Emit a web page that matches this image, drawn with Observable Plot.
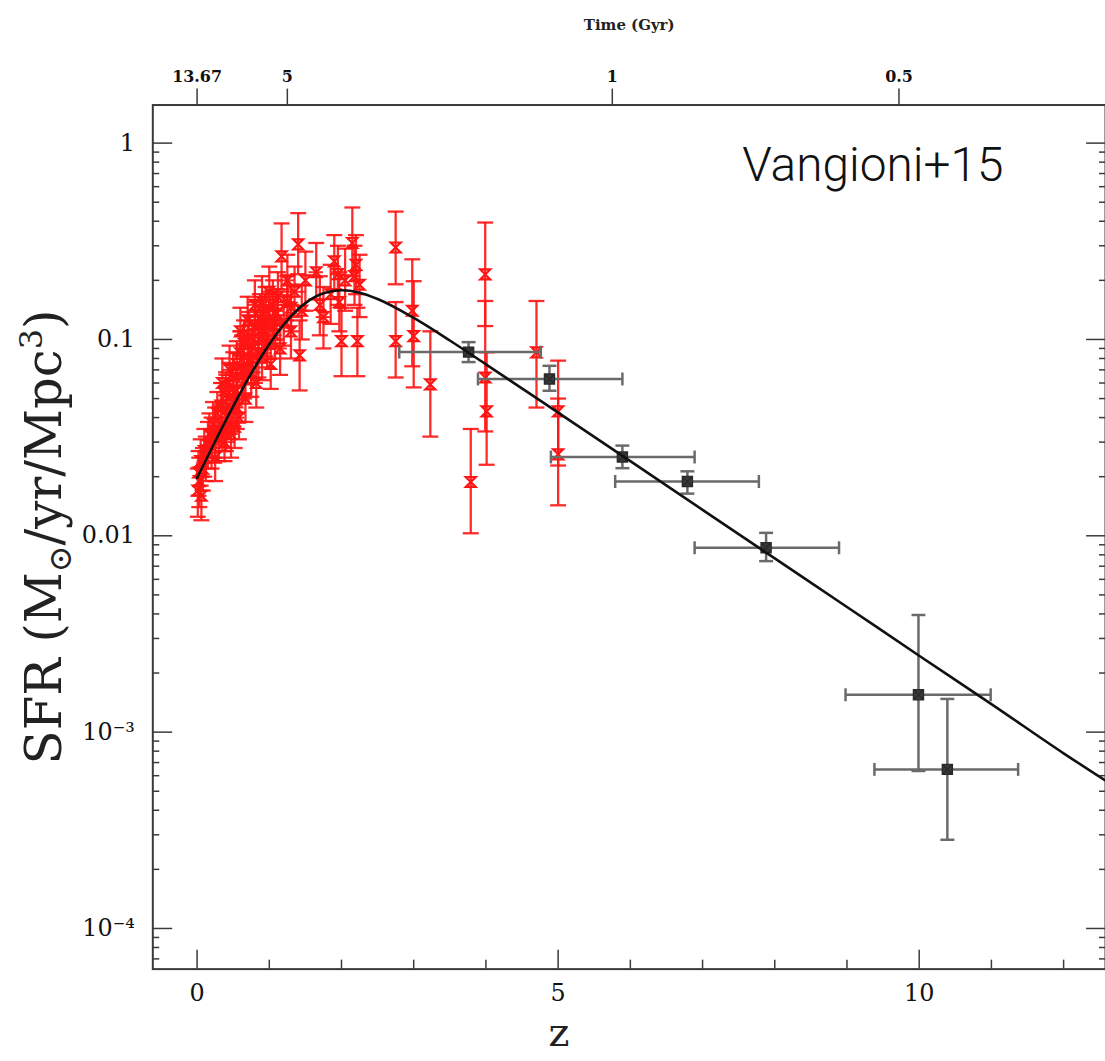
<!DOCTYPE html>
<html><head><meta charset="utf-8">
<script src="https://cdn.jsdelivr.net/npm/d3@7"></script>
<script src="https://cdn.jsdelivr.net/npm/@observablehq/plot@0.6"></script>
<style>
html,body{margin:0;padding:0;background:#fff;overflow:hidden;}
#chart svg{display:block;}
</style></head><body><div id="chart"></div>
<script>
// ---- Fit curve ----
const curveZ   = [0, 0.25, 0.5, 0.75, 1, 1.25, 1.5, 1.75, 2, 2.25, 2.5, 3, 3.5, 4, 5, 6, 7, 8, 9, 10, 11, 12, 12.6];
const curveSFR = [0.0197, 0.0302, 0.0456, 0.0671, 0.0945, 0.1251, 0.1531, 0.1718, 0.178, 0.173, 0.1607, 0.1287, 0.0988, 0.0747, 0.0424, 0.0240, 0.01356, 0.00767, 0.00434, 0.00245, 0.00139, 0.00078, 0.00056];

// ---- High-z (grey/black) points ----
const blackZ   = [3.76, 4.88, 5.89, 6.79, 7.88, 9.99, 10.39];
const blackSFR = [0.0862, 0.0629, 0.0252, 0.0189, 0.00869, 0.00155, 0.000646];
const blackLo  = [0.0767, 0.0548, 0.0221, 0.0164, 0.00743, 0.000634, 0.000283];
const blackHi  = [0.0969, 0.0734, 0.0288, 0.0213, 0.01035, 0.00395, 0.001476];
const blackZlo = [2.80, 3.89, 4.90, 5.79, 6.89, 8.98, 9.38];
const blackZhi = [4.76, 5.89, 6.89, 7.78, 8.89, 10.99, 11.37];

// ---- Red compilation points ----
const redZ   = [0.01,0.02,0.03,0.05,0.06,0.08,0.10,0.12,0.15,0.17,0.20,0.22,0.25,0.28,0.30,0.33,0.35,0.38,0.40,0.42,0.45,0.47,0.50,0.50,0.52,0.55,0.55,0.58,0.60,0.62,0.65,0.67,0.70,0.72,0.75,0.77,0.80,0.82,0.85,0.87,0.90,0.92,0.95,0.97,1.00,1.02,1.05,1.08,1.10,1.12,1.15,1.17,1.20,1.25,1.30,1.35,1.40,1.42,1.45,1.50,1.65,1.70,1.75,1.85,1.90,1.95,1.97,2.00,2.05,2.15,2.18,2.20,2.22,2.25,2.75,2.75,2.98,3.00,3.23,3.79,3.99,3.99,4.01,4.70,5.00,5.00,
                0.35,0.45,0.60,0.70,0.80,0.90,1.00,1.05,0.65,0.75,0.85,0.95,1.25,1.30,0.25,0.40,0.55];
const redSFR = [0.017,0.021,0.019,0.024,0.016,0.022,0.027,0.025,0.029,0.033,0.030,0.037,0.034,0.042,0.031,0.046,0.036,0.030,0.052,0.040,0.058,0.033,0.048,0.066,0.036,0.075,0.055,0.040,0.085,0.064,0.095,0.050,0.078,0.105,0.068,0.090,0.118,0.060,0.100,0.130,0.082,0.112,0.140,0.095,0.120,0.075,0.150,0.105,0.135,0.165,0.090,0.265,0.125,0.155,0.110,0.175,0.305,0.083,0.140,0.200,0.220,0.150,0.130,0.170,0.250,0.215,0.155,0.098,0.200,0.310,0.210,0.240,0.098,0.190,0.294,0.098,0.140,0.104,0.059,0.0188,0.2145,0.064,0.043,0.086,0.043,0.026,
                0.060,0.070,0.110,0.125,0.150,0.155,0.175,0.125,0.070,0.080,0.085,0.110,0.200,0.145,0.025,0.035,0.045];
const redLo  = [0.0125,0.016,0.014,0.018,0.012,0.017,0.020,0.019,0.022,0.025,0.022,0.028,0.025,0.032,0.024,0.035,0.027,0.024,0.040,0.031,0.044,0.025,0.036,0.050,0.028,0.057,0.042,0.031,0.064,0.049,0.072,0.038,0.059,0.080,0.051,0.068,0.090,0.045,0.076,0.098,0.062,0.085,0.106,0.072,0.090,0.056,0.113,0.080,0.100,0.125,0.066,0.180,0.093,0.115,0.080,0.130,0.215,0.055,0.100,0.140,0.160,0.105,0.090,0.120,0.180,0.150,0.110,0.065,0.140,0.210,0.150,0.170,0.065,0.130,0.191,0.064,0.073,0.057,0.032,0.0103,0.117,0.034,0.023,0.045,0.0228,0.0143,
                0.045,0.053,0.083,0.094,0.112,0.115,0.130,0.092,0.053,0.060,0.064,0.082,0.150,0.110,0.019,0.027,0.035];
const redHi  = [0.022,0.027,0.025,0.031,0.020,0.028,0.035,0.032,0.038,0.042,0.040,0.048,0.045,0.054,0.040,0.060,0.047,0.038,0.068,0.052,0.076,0.043,0.063,0.086,0.046,0.098,0.072,0.052,0.110,0.083,0.125,0.065,0.102,0.138,0.090,0.118,0.155,0.080,0.132,0.170,0.108,0.147,0.185,0.125,0.160,0.100,0.200,0.140,0.180,0.220,0.122,0.390,0.168,0.210,0.150,0.235,0.440,0.125,0.190,0.280,0.310,0.210,0.185,0.240,0.340,0.300,0.220,0.145,0.290,0.470,0.300,0.340,0.145,0.270,0.448,0.155,0.256,0.198,0.110,0.035,0.394,0.157,0.086,0.157,0.078,0.050,
                0.080,0.093,0.145,0.165,0.200,0.210,0.235,0.170,0.093,0.106,0.113,0.147,0.270,0.190,0.033,0.045,0.058];
const redZerr = [0.02,0.03,0,0.05,0.03,0,0.08,0,0.1,0,0.1,0,0.15,0,0.1,0.1,0,0.15,0.1,0,0.15,0.1,0,0.2,0.1,0.1,0,0.08,0.15,0,0.1,0.1,0,0.2,0.1,0,0.15,0.1,0,0.2,0.1,0,0.15,0.1,0.2,0,0.15,0.1,0,0.2,0.1,0,0.15,0.1,0,0.15,0,0,0.1,0,0.1,0,0.1,0,0,0.1,0,0,0,0,0,0,0,0,0,0,0,0,0,0,0,0,0,0,0,0,
                0.1,0.1,0.1,0.1,0.1,0.1,0.1,0.15,0.1,0.15,0,0,0.1,0,0.1,0.1,0.1];

// ---- Axis ticks ----
const yMajor = [1, 0.1, 0.01, 0.001, 0.0001];
const yMajorLabels = ["1", "0.1", "0.01", "10\u207B\u00B3", "10\u207B\u2074"];
const yMinor = [7e-5, 8e-5, 9e-5,
  2e-4, 3e-4, 4e-4, 5e-4, 6e-4, 7e-4, 8e-4, 9e-4,
  2e-3, 3e-3, 4e-3, 5e-3, 6e-3, 7e-3, 8e-3, 9e-3,
  0.02, 0.03, 0.04, 0.05, 0.06, 0.07, 0.08, 0.09,
  0.2, 0.3, 0.4, 0.5, 0.6, 0.7, 0.8, 0.9];
const xMajor = [0, 5, 10];
const xMajorLabels = ["0", "5", "10"];
const xMinor = [1, 2, 3, 4, 6, 7, 8, 9, 11, 12];
const timeTickZ = [0, 1.25, 5.75, 9.72];
const timeTickLabels = ["13.67", "5", "1", "0.5"];

// ---- build tables ----
const curve = curveZ.map((z, i) => ({z, v: curveSFR[i]}));
const black = blackZ.map((z, i) => ({z, v: blackSFR[i], lo: blackLo[i], hi: blackHi[i], zlo: blackZlo[i], zhi: blackZhi[i]}));
const red = redZ.map((z, i) => ({z, v: redSFR[i], lo: redLo[i], hi: redHi[i], zlo: z - redZerr[i], zhi: z + redZerr[i], e: redZerr[i]}));
const redX = red.filter(d => d.e > 0);

// ---- custom symbols ----
const hline = {draw(ctx, size){const r = Math.sqrt(size/Math.PI); ctx.moveTo(-r,0); ctx.lineTo(r,0);}};
const vline = {draw(ctx, size){const r = Math.sqrt(size/Math.PI); ctx.moveTo(0,-r); ctx.lineTo(0,r);}};
const hourglass = {draw(ctx, size){const r = Math.sqrt(size/Math.PI); ctx.moveTo(-r,-r); ctx.lineTo(r,-r); ctx.lineTo(-r,r); ctx.lineTo(r,r); ctx.closePath();}};
const boxX = {draw(ctx, size){const r = Math.sqrt(size/Math.PI); ctx.moveTo(-r,-r); ctx.lineTo(r,-r); ctx.lineTo(r,r); ctx.lineTo(-r,r); ctx.closePath(); ctx.moveTo(-r,-r); ctx.lineTo(r,r); ctx.moveTo(r,-r); ctx.lineTo(-r,r);}};

const RED = "#ff1414";
const GREY = "#6a6a6a";
const AX = "#3a3a3a";
const SERIF = "'DejaVu Serif', 'Liberation Serif', serif";
const YLABEL = "__YLABEL__";

const chart = Plot.plot({
  width: 1110, height: 1061,
  marginTop: 105, marginBottom: 88, marginLeft: 153, marginRight: 0,
  style: {fontFamily: SERIF, background: "white", color: "#111", overflow: "visible"},
  x: {domain: [-0.613, 12.58]},
  y: {type: "log", domain: [Math.pow(10, -4.207), Math.pow(10, 0.194)]},
  marks: [
    // axes
    Plot.axisY({anchor: "left", ticks: yMinor, tickSize: -7, tickFormat: () => "", stroke: AX, strokeWidth: 1.5, label: null}),
    Plot.axisY({anchor: "left", ticks: yMajor, tickSize: -20, tickPadding: 38, tickFormat: d => yMajorLabels[yMajor.indexOf(d)], fontSize: 24, stroke: AX, strokeWidth: 1.5, label: null}),
    Plot.axisY({anchor: "right", ticks: yMinor, tickSize: -7, tickFormat: () => "", stroke: AX, strokeWidth: 1.5, label: null}),
    Plot.axisY({anchor: "right", ticks: yMajor, tickSize: -20, tickFormat: () => "", stroke: AX, strokeWidth: 1.5, label: null}),
    Plot.axisX({anchor: "bottom", ticks: xMinor, tickSize: -9, tickFormat: () => "", stroke: AX, strokeWidth: 1.5, label: null}),
    Plot.axisX({anchor: "bottom", ticks: xMajor, tickSize: -19, tickPadding: 34, tickFormat: d => xMajorLabels[xMajor.indexOf(d)], fontSize: 24, stroke: AX, strokeWidth: 1.5, label: null}),
    Plot.axisX({anchor: "top", ticks: timeTickZ, tickSize: 17, tickPadding: 6, tickFormat: d => timeTickLabels[timeTickZ.indexOf(d)], fontSize: 16, fontWeight: "bold", stroke: AX, strokeWidth: 1.5, label: null}),
    Plot.frame({stroke: AX, strokeWidth: 2}),
    // red compilation
    Plot.ruleY(redX, {y: "v", x1: "zlo", x2: "zhi", stroke: RED, strokeWidth: 2, strokeOpacity: 0.9}),
    Plot.ruleX(red, {x: "z", y1: "lo", y2: "hi", stroke: RED, strokeWidth: 2.3, strokeOpacity: 0.9}),
    Plot.dot(red, {x: "z", y: "lo", symbol: hline, r: 8, stroke: RED, strokeWidth: 2.3, strokeOpacity: 0.9}),
    Plot.dot(red, {x: "z", y: "hi", symbol: hline, r: 8, stroke: RED, strokeWidth: 2.3, strokeOpacity: 0.9}),
    Plot.dot(red, {x: "z", y: "v", symbol: hourglass, r: 5, stroke: RED, strokeWidth: 2.2, fill: "none"}),
    // grey high-z points
    Plot.ruleY(black, {y: "v", x1: "zlo", x2: "zhi", stroke: GREY, strokeWidth: 2.5}),
    Plot.ruleX(black, {x: "z", y1: "lo", y2: "hi", stroke: GREY, strokeWidth: 2.5}),
    Plot.dot(black, {x: "zlo", y: "v", symbol: vline, r: 6.5, stroke: GREY, strokeWidth: 2.5}),
    Plot.dot(black, {x: "zhi", y: "v", symbol: vline, r: 6.5, stroke: GREY, strokeWidth: 2.5}),
    Plot.dot(black, {x: "z", y: "lo", symbol: hline, r: 7, stroke: GREY, strokeWidth: 2.5}),
    Plot.dot(black, {x: "z", y: "hi", symbol: hline, r: 7, stroke: GREY, strokeWidth: 2.5}),
    Plot.dot(black, {x: "z", y: "v", symbol: boxX, r: 5, stroke: "#2a2a2a", fill: "#3a3a3a", strokeWidth: 1.5}),
    // fit curve
    Plot.line(curve, {x: "z", y: "v", curve: "monotone-x", stroke: "#111", strokeWidth: 2.6, clip: true}),
    // texts
    Plot.text([YLABEL], {frameAnchor: "left", dx: -108, rotate: -90, textAnchor: "middle", lineAnchor: "middle", fontSize: 50, fill: "#222"}),
    Plot.text(["z"], {frameAnchor: "bottom-left", dx: 408, dy: 64, textAnchor: "middle", lineAnchor: "middle", fontSize: 40, fill: "#222"}),
    Plot.text(["Time (Gyr)"], {frameAnchor: "top", dy: -80, lineAnchor: "middle", fontSize: 15, fontWeight: "bold", fill: "#222"}),
    Plot.text(["Vangioni+15"], {frameAnchor: "top-left", dx: 592, dy: 61, textAnchor: "start", lineAnchor: "middle", fontSize: 48, fontWeight: 300, fontFamily: "Roboto, 'Open Sans', Lato, 'Liberation Sans', sans-serif", fill: "#111"})
  ]
});

// y label with sub/superscripts
chart.querySelectorAll("text").forEach(t => {
  if (t.textContent === YLABEL) {
    while (t.firstChild) t.removeChild(t.firstChild);
    const ns = "http://www.w3.org/2000/svg";
    const add = (s, opts = {}) => {
      const ts = document.createElementNS(ns, "tspan");
      ts.textContent = s;
      for (const k in opts) ts.setAttribute(k, opts[k]);
      t.appendChild(ts);
    };
    t.setAttribute("text-anchor", "middle");
    add("SFR (M");
    add("\u2299", {"font-size": 32, dy: 10});
    add("/yr/Mpc", {dy: -10});
    add("3", {"font-size": 32, dy: -19});
    add(")", {dy: 19});
  }
});

document.getElementById("chart").appendChild(chart);
</script>
</body></html>
